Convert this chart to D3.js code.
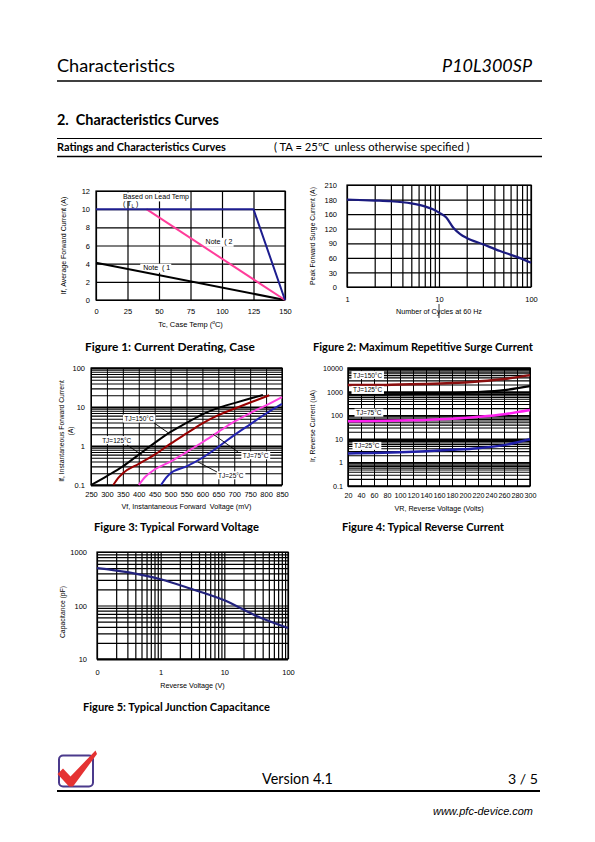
<!DOCTYPE html>
<html><head><meta charset="utf-8">
<script src="https://cdn.jsdelivr.net/npm/d3@7"></script>
<style>body{margin:0;background:#fff}svg{display:block}</style>
</head><body>
<svg id="page" width="595" height="842"></svg>
<script>
// ---------------- DATA ----------------
// Figure 1: Current derating
const fig1TempTicks = [0, 25, 50, 75, 100, 125, 150];
const fig1CurrentTicks = [0, 2, 4, 6, 8, 10, 12];
const fig1LeadTemp = [[0, 10], [125, 10], [150, 0]];
const fig1Note2 = [[40, 10], [150, 0]];
const fig1Note1 = [[0, 4.1], [150, 0]];

// Figure 2: Surge current
const fig2CycleTicks = [1, 10, 100];
const fig2SurgeTicks = [0, 30, 60, 90, 120, 150, 180, 210];
const fig2SurgeLabels = ["0", "30", "60", "90", "120", "160", "180", "210"];
const fig2Surge = [[1, 180], [2, 178], [3, 176.5], [5, 172], [7, 166], [8.6, 160], [10, 153], [12, 143], [14.3, 122], [17, 109], [20, 101], [30, 88], [46, 74], [70, 62], [100, 50]];

// Figure 3: Forward voltage
const fig3VfTicks = [250, 300, 350, 400, 450, 500, 550, 600, 650, 700, 750, 800, 850];
const fig3IfTicks = [0.1, 1, 10, 100];
const fig3Tj150 = [[250, 0.1], [300, 0.17], [350, 0.3], [400, 0.6], [450, 1.2], [500, 2.3], [550, 3.9], [600, 6.5], [650, 9.5], [700, 12.6], [750, 16.5], [790, 20.4]];
const fig3Tj125 = [[320, 0.1], [335, 0.15], [350, 0.2], [400, 0.35], [450, 0.6], [500, 1.15], [550, 2.1], [600, 3.8], [650, 6.2], [700, 9], [750, 13], [810, 20]];
const fig3Tj75 = [[400, 0.1], [420, 0.16], [450, 0.25], [500, 0.4], [550, 0.7], [600, 1.25], [650, 2.3], [700, 4.2], [750, 7], [800, 11], [850, 18]];
const fig3Tj25 = [[470, 0.1], [485, 0.15], [500, 0.2], [550, 0.3], [600, 0.5], [650, 0.95], [700, 1.9], [750, 3.6], [800, 6.8], [850, 12]];

// Figure 4: Reverse current
const fig4VrTicks = [20, 40, 60, 80, 100, 120, 140, 160, 180, 200, 220, 240, 260, 280, 300];
const fig4IrTicks = [0.1, 1, 10, 100, 1000, 10000];
const fig4Tj150 = [[20, 1900], [60, 1900], [100, 2000], [140, 2100], [180, 2300], [220, 2700], [260, 3400], [300, 5000]];
const fig4Tj125 = [[20, 750], [60, 750], [100, 770], [140, 800], [180, 850], [220, 950], [260, 1150], [300, 1700]];
const fig4Tj75 = [[20, 55], [60, 57], [100, 60], [140, 63], [180, 70], [220, 85], [260, 110], [300, 165]];
const fig4Tj25 = [[20, 2.4], [60, 2.5], [100, 2.7], [140, 3.0], [180, 3.4], [220, 4.0], [260, 5.4], [300, 9.5]];

// Figure 5: Junction capacitance
const fig5VrTicks = [0.1, 1, 10, 100];
const fig5VrLabels = ["0", "1", "10", "100"];
const fig5CapTicks = [10, 100, 1000];
const fig5Cap = [[0.1, 500], [0.3, 420], [1, 310], [3, 205], [10, 125], [30, 66], [100, 38]];

// ---------------- RENDER ----------------
const svg = d3.select('#page');
const AR = '"Liberation Sans", Arial, Helvetica, sans-serif';
const CAL = 'Lato, "Open Sans", sans-serif';

function fit(t, w) {
  const cur = t.node().getComputedTextLength();
  const fs = parseFloat(t.attr('font-size'));
  if (cur > 0) t.attr('font-size', (fs * w / cur).toFixed(2));
}
function txt(parent, x, y, s, o = {}) {
  const t = parent.append('text').attr('x', x).attr('y', y).text(s)
    .attr('font-family', o.ff || AR).attr('font-size', o.fs || 7).attr('fill', o.fill || '#000');
  if (o.fw) t.attr('font-weight', o.fw);
  if (o.st) t.attr('font-style', o.st);
  if (o.anchor) t.attr('text-anchor', o.anchor);
  if (o.w) fit(t, o.w);
  return t;
}
function hline(x1, x2, y, w) {
  svg.append('line').attr('x1', x1).attr('x2', x2).attr('y1', y).attr('y2', y)
    .attr('stroke', '#000').attr('stroke-width', w);
}

// header
txt(svg, 57, 72, 'Characteristics', {ff: CAL, fs: 18, w: 118});
txt(svg, 532, 72, 'P10L300SP', {ff: CAL, fs: 18, st: 'italic', anchor: 'end', w: 90});
hline(57, 542, 81, 1.6);
txt(svg, 57, 125, '2.\u00a0 Characteristics Curves', {ff: CAL, fs: 13, fw: 'bold', w: 162});
hline(57, 542, 138.5, 1);
txt(svg, 57, 151, 'Ratings and Characteristics Curves', {ff: CAL, fs: 10, fw: 'bold', w: 169});
txt(svg, 274, 151, '( TA = 25\u2103  unless otherwise specified )', {ff: CAL, fs: 10, w: 193}).attr('xml:space', 'preserve').style('white-space', 'pre');
hline(57, 542, 156.5, 1.6);

// captions
txt(svg, 85, 351, 'Figure 1: Current Derating, Case', {ff: CAL, fs: 10, fw: 'bold', w: 170});
txt(svg, 313, 351, 'Figure 2: Maximum Repetitive Surge Current', {ff: CAL, fs: 10, fw: 'bold', w: 220});
txt(svg, 94, 531, 'Figure 3: Typical Forward Voltage', {ff: CAL, fs: 10, fw: 'bold', w: 165});
txt(svg, 342, 531, 'Figure 4: Typical Reverse Current', {ff: CAL, fs: 10, fw: 'bold', w: 162});
txt(svg, 83, 711, 'Figure 5: Typical Junction Capacitance', {ff: CAL, fs: 10, fw: 'bold', w: 187});

// footer
txt(svg, 262, 784, 'Version 4.1', {ff: CAL, fs: 13, w: 71});
txt(svg, 538, 784, '3 / 5', {ff: CAL, fs: 13, anchor: 'end', w: 30}).style('white-space', 'pre');
hline(57, 540, 791, 2);
txt(svg, 533, 815, 'www.pfc-device.com', {ff: AR, fs: 8.5, st: 'italic', anchor: 'end', w: 100});
// logo
const logo = svg.append('g');
logo.append('rect').attr('x', 59).attr('y', 755.5).attr('width', 34).attr('height', 31).attr('rx', 4)
  .attr('fill', 'none').attr('stroke', '#4b3a8c').attr('stroke-width', 2);
logo.append('path').attr('d', 'M57.5,774 L63,768.5 L70.5,776.5 L95.5,750.5 L97,754 L73,786.5 L69,786.5 Z')
  .attr('fill', '#e53232');

// chart builder
function buildChart(c) {
  const g = svg.append('g');
  const W = c.x1 - c.x0, H = c.y1 - c.y0;
  const vg = g.append('g').attr('transform', `translate(0,${c.y1})`)
    .call(d3.axisBottom(c.x).tickValues(c.xGrid).tickSize(-H).tickFormat(''));
  vg.select('.domain').remove();
  vg.selectAll('.tick line').attr('stroke', '#000').attr('stroke-width', d => c.vW ? c.vW(d) : 1);
  const hg = g.append('g').attr('transform', `translate(${c.x0},0)`)
    .call(d3.axisLeft(c.y).tickValues(c.yGrid).tickSize(-W).tickFormat(''));
  hg.select('.domain').remove();
  hg.selectAll('.tick line').attr('stroke', '#000').attr('stroke-width', d => c.hW ? c.hW(d) : 1);
  g.append('rect').attr('x', c.x0).attr('y', c.y0).attr('width', W).attr('height', H)
    .attr('fill', 'none').attr('stroke', '#000').attr('stroke-width', c.bw || 1);

  const xl = g.append('g').attr('transform', `translate(0,${c.xLabY})`)
    .call(d3.axisBottom(c.x).tickValues(c.xTicks).tickSize(0).tickFormat((d, i) => c.xFmt ? c.xFmt(d, i) : d));
  xl.select('.domain').remove();
  xl.attr('font-family', AR).attr('font-size', c.fs || 7.5);
  xl.selectAll('text').attr('y', 0).attr('dy', 0).attr('fill', '#000');

  const yl = g.append('g').attr('transform', `translate(${c.yLabX},0)`)
    .call(d3.axisLeft(c.y).tickValues(c.yTicks).tickSize(0).tickFormat((d, i) => c.yFmt ? c.yFmt(d, i) : d));
  yl.select('.domain').remove();
  yl.attr('font-family', AR).attr('font-size', c.fs || 7.5);
  yl.selectAll('text').attr('x', 0).attr('dy', '0.35em').attr('fill', '#000');
  return g;
}
function curve(g, c, data, color, w) {
  g.append('path').datum(data)
    .attr('d', d3.line().x(d => c.x(d[0])).y(d => c.y(d[1])).curve(d3.curveMonotoneX))
    .attr('fill', 'none').attr('stroke', color).attr('stroke-width', w).attr('stroke-linejoin', 'round');
}
function boxLabel(g, x, y, s, fs, pad) {
  const t = g.append('text').attr('x', x).attr('y', y).attr('dy', '0.35em').text(s)
    .attr('font-family', AR).attr('font-size', fs).attr('fill', '#000');
  const b = t.node().getBBox();
  g.insert('rect', () => t.node()).attr('x', b.x - pad).attr('y', b.y - 0.5).attr('width', b.width + 2 * pad)
    .attr('height', b.height + 1).attr('fill', '#fff');
  return t;
}
function arrow(g, p1, p2) {
  g.append('line').attr('x1', p1[0]).attr('y1', p1[1]).attr('x2', p2[0]).attr('y2', p2[1])
    .attr('stroke', '#000').attr('stroke-width', 0.9);
}
function rotLabel(g, x, y, s, fs) {
  return g.append('text').attr('transform', `translate(${x},${y}) rotate(-90)`).attr('text-anchor', 'middle')
    .attr('font-family', AR).attr('font-size', fs).attr('fill', '#000').text(s);
}

// ---- Figure 1 ----
{
  const c = {x0: 96, x1: 285, y0: 191, y1: 300};
  c.x = d3.scaleLinear().domain([0, 150]).range([c.x0, c.x1]);
  c.y = d3.scaleLinear().domain([0, 12]).range([c.y1, c.y0]);
  Object.assign(c, {xGrid: fig1TempTicks, yGrid: fig1CurrentTicks, xTicks: fig1TempTicks, yTicks: fig1CurrentTicks,
    xLabY: 313.5, yLabX: 90, bw: 1.2, vW: () => 1.2, hW: () => 1.2});
  const g = buildChart(c);
  const t1 = boxLabel(g, c.x(21.4), c.y(11.4), 'Based on Lead Temp', 7, 1);
  const t2 = g.append('text').attr('x', c.x(21.4)).attr('y', c.y(10.3)).attr('font-family', AR).attr('font-size', 7).attr('fill', '#000');
  t2.append('tspan').text('( T');
  t2.append('tspan').text('L').attr('font-size', 5).attr('dy', 1.5);
  t2.append('tspan').text(' )').attr('dy', -1.5).style('white-space', 'pre');
  boxLabel(g, c.x(87), c.y(6.4), 'Note  ( 2', 7, 3).style('white-space', 'pre');
  boxLabel(g, c.x(37.5), c.y(3.55), 'Note  ( 1', 7, 3).style('white-space', 'pre');
  curve(g, c, fig1Note1, '#000', 2);
  curve(g, c, fig1Note2, '#ff3d9a', 2);
  g.append('path').datum(fig1LeadTemp).attr('d', d3.line().x(d => c.x(d[0])).y(d => c.y(d[1])))
    .attr('fill', 'none').attr('stroke', '#1d1d8f').attr('stroke-width', 2);
  rotLabel(g, 66, 245.5, 'If, Average Forward Current (A)', 7);
  const xt = g.append('text').attr('x', c.x(75)).attr('y', 327).attr('text-anchor', 'middle')
    .attr('font-family', AR).attr('font-size', 7.5).attr('fill', '#000');
  xt.append('tspan').text('Tc, Case Temp (');
  xt.append('tspan').text('o').attr('font-size', 5).attr('dy', -3);
  xt.append('tspan').text('C)').attr('dy', 3);
}

// ---- Figure 2 ----
{
  const c = {x0: 347, x1: 531, y0: 185, y1: 287};
  c.x = d3.scaleLog().domain([1, 100]).range([c.x0, c.x1]);
  c.y = d3.scaleLinear().domain([0, 210]).range([c.y1, c.y0]);
  Object.assign(c, {xGrid: c.x.ticks(), yGrid: fig2SurgeTicks, xTicks: fig2CycleTicks, yTicks: fig2SurgeTicks,
    yFmt: (d, i) => fig2SurgeLabels[i], xFmt: d => d, xLabY: 301.5, yLabX: 337, bw: 1.2, vW: () => 1.2, hW: () => 1.2});
  const g = buildChart(c);
  curve(g, c, fig2Surge, '#1b1b80', 2.2);
  rotLabel(g, 315, 236, 'Peak Forward Surge Current (A)', 6.8);
  g.append('text').attr('x', c.x(10)).attr('y', 314).attr('text-anchor', 'middle')
    .attr('font-family', AR).attr('font-size', 7.2).attr('fill', '#000').text('Number of Cycles at 60 Hz');
  g.append('line').attr('x1', c.x(10)).attr('x2', c.x(10)).attr('y1', 304).attr('y2', 318)
    .attr('stroke', '#000').attr('stroke-width', 0.8);
}

// ---- Figure 3 ----
{
  const c = {x0: 91, x1: 282, y0: 368, y1: 485};
  c.x = d3.scaleLinear().domain([250, 850]).range([c.x0, c.x1]);
  c.y = d3.scaleLog().domain([0.1, 100]).range([c.y1, c.y0]);
  Object.assign(c, {xGrid: fig3VfTicks, yGrid: c.y.ticks(), xTicks: fig3VfTicks, yTicks: fig3IfTicks,
    yFmt: d => d3.format('~g')(d), xLabY: 496.5, yLabX: 85, bw: 1.2,
    hW: d => (Math.abs(Math.log10(d) - Math.round(Math.log10(d))) < 1e-6 ? 2 : 1.1)});
  const g = buildChart(c);
  curve(g, c, fig3Tj150, '#000', 2);
  curve(g, c, fig3Tj125, '#990000', 2);
  curve(g, c, fig3Tj75, '#ff40e0', 2);
  curve(g, c, fig3Tj25, '#2323b0', 2);
  boxLabel(g, c.x(355), c.y(5.0), 'TJ=150°C', 6.5, 1.5);
  arrow(g, [c.x(448), c.y(3.9)], [c.x(492), c.y(2.2)]);
  boxLabel(g, c.x(285), c.y(1.4), 'TJ=125°C', 6.5, 1.5);
  arrow(g, [c.x(363), c.y(1.06)], [c.x(410), c.y(0.59)]);
  boxLabel(g, c.x(727), c.y(0.57), 'TJ=75°C', 6.5, 1.5);
  arrow(g, [c.x(712), c.y(0.70)], [c.x(633), c.y(2.03)]);
  boxLabel(g, c.x(649), c.y(0.175), 'TJ=25°C', 6.5, 1.5);
  arrow(g, [c.x(646), c.y(0.215)], [c.x(586), c.y(0.39)]);
  rotLabel(g, 64, 431, 'If, Instantaneous Forward Current', 6.8);
  rotLabel(g, 72.5, 431, '(A)', 6.8);
  g.append('text').attr('x', c.x(550)).attr('y', 509).attr('text-anchor', 'middle')
    .attr('font-family', AR).attr('font-size', 7.2).attr('fill', '#000')
    .style('white-space', 'pre').text('Vf, Instantaneous Forward  Voltage (mV)');
}

// ---- Figure 4 ----
{
  const c = {x0: 348, x1: 530, y0: 368, y1: 486};
  c.x = d3.scaleLinear().domain([20, 300]).range([c.x0, c.x1]);
  c.y = d3.scaleLog().domain([0.1, 10000]).range([c.y1, c.y0]);
  Object.assign(c, {xGrid: fig4VrTicks, yGrid: c.y.ticks(), xTicks: fig4VrTicks, yTicks: fig4IrTicks,
    yFmt: d => d3.format('~g')(d), xLabY: 498, yLabX: 343, bw: 1.5, fs: 7.2,
    hW: d => (Math.abs(Math.log10(d) - Math.round(Math.log10(d))) < 1e-6 ? 1.6 : 1.1)});
  const g = buildChart(c);
  curve(g, c, fig4Tj125, '#000', 2.2);
  curve(g, c, fig4Tj150, '#8b0f0f', 2.5);
  curve(g, c, fig4Tj75, '#ff20f0', 2.5);
  curve(g, c, fig4Tj25, '#2020a8', 2.5);
  boxLabel(g, c.x(27.7), c.y(4900), 'TJ=150°C', 6.5, 1.5);
  boxLabel(g, c.x(27.7), c.y(1150), 'TJ=125°C', 6.5, 1.5);
  boxLabel(g, c.x(32.3), c.y(125), 'TJ=75°C', 6.5, 1.5);
  boxLabel(g, c.x(29.2), c.y(4.9), 'TJ=25°C', 6.5, 1.5);
  rotLabel(g, 315, 426, 'Ir, Reverse Current (uA)', 6.8);
  g.append('text').attr('x', c.x(160)).attr('y', 511).attr('text-anchor', 'middle')
    .attr('font-family', AR).attr('font-size', 7.2).attr('fill', '#000').text('VR, Reverse Voltage (Volts)');
}

// ---- Figure 5 ----
{
  const c = {x0: 97, x1: 288, y0: 552, y1: 659};
  c.x = d3.scaleLog().domain([0.1, 100]).range([c.x0, c.x1]);
  c.y = d3.scaleLog().domain([10, 1000]).range([c.y1, c.y0]);
  Object.assign(c, {xGrid: c.x.ticks(), yGrid: c.y.ticks(), xTicks: fig5VrTicks, yTicks: fig5CapTicks,
    xFmt: (d, i) => fig5VrLabels[i], yFmt: d => d, xLabY: 675, yLabX: 87, bw: 1.2, vW: () => 1.2,
    hW: d => (d === 10 ? 2.2 : 1.2)});
  const g = buildChart(c);
  curve(g, c, fig5Cap, '#22227e', 2.2);
  rotLabel(g, 64.5, 612, 'Capacitance (pF)', 6.8);
  g.append('text').attr('x', c.x(3.16)).attr('y', 688).attr('text-anchor', 'middle')
    .attr('font-family', AR).attr('font-size', 7.2).attr('fill', '#000').text('Reverse Voltage (V)');
}
</script>
</body></html>
